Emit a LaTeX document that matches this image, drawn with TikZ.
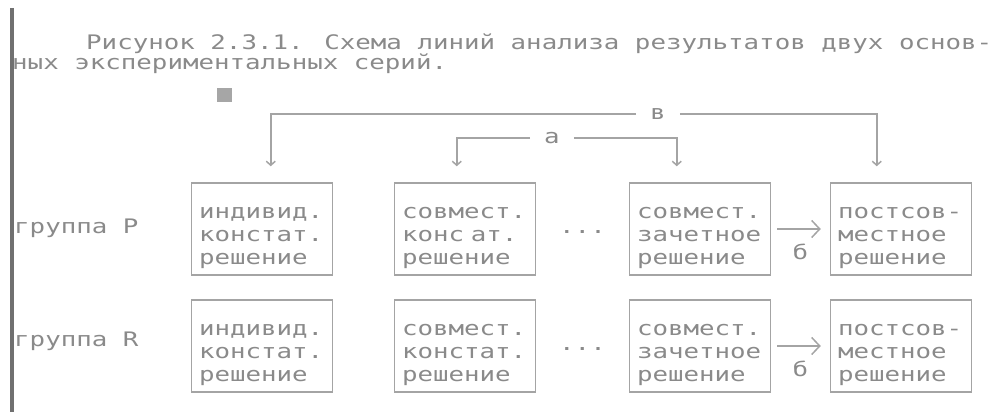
\documentclass[tikz,border=0pt]{standalone}
\usepackage{fontspec}
\newfontfamily\dosfont[FakeStretch=1.29]{DejaVu Sans Mono}
\usetikzlibrary{calc,positioning,arrows.meta}
\definecolor{dosgray}{HTML}{8A8A8A}
\definecolor{linegray}{HTML}{A4A4A4}
\definecolor{bargray}{HTML}{707070}

\begin{document}
\begin{tikzpicture}[x=1pt, y=-1pt, color=dosgray,
    txt/.style={font={\dosfont\fontsize{20}{23}\selectfont}, text=dosgray, inner sep=0pt},
    box/.style={txt, draw=linegray, line width=1.5pt, align=left, text width=126pt, minimum height=92pt, inner xsep=7.5pt,
        execute at begin node={\rule{0pt}{29pt}}},
    lbl/.style={txt, inner xsep=14pt},
    link/.style={draw=linegray, line width=1.5pt, -{Straight Barb[length=4pt,width=9pt]}},
    harrow/.style={draw=linegray, line width=1.5pt, -{Straight Barb[length=8pt,width=17pt]}, shorten <=6pt, shorten >=9pt}]

    \useasboundingbox (0,0) rectangle (994,412);

    % caption
    \node[txt, anchor=west] (cap1) at (86,44) {Рисунок 2.3.1. Схема линий анализа результатов двух основ-};
    \node[txt, anchor=west] (cap2) at (12,64) {ных экспериментальных серий.};
    \fill[black!35] (217,88) rectangle (232,102);

    % two rows of boxes
    \foreach \g/\y/\ly/\n/\s in {P/229/228/Р/{конс ат.}, R/346/341/R/констат.}{
        \node[txt, anchor=west] (lab\g) at (14,\ly) {группа \n};
        \node[box] (\g1) at (262,\y) {индивид.\\констат.\\решение};
        \node[box] (\g2) at (465,\y) {совмест.\\\s\\решение};
        \node[box] (\g3) at (700,\y) {совмест.\\зачетное\\решение};
        \node[box] (\g4) at (901,\y) {постсов-\\местное\\решение};
        \node[txt, yshift=-3pt] (\g dots) at ($(\g2)!0.5!(\g3)$) {...};
        \draw[harrow] (\g3) -- node[txt, below=14pt] (\g b) {б} (\g4);
    }

    % lines a and v
    \coordinate (o1) at ($(P1.north west)+(80,-16)$);
    \coordinate (o2) at ($(P4.north west)+(47,-16)$);
    \coordinate (i1) at ($(P2.north west)+(63,-16)$);
    \coordinate (i2) at ($(P3.north west)+(48,-16)$);

    \node[lbl] (v) at (658,114) {в};
    \node[lbl] (a) at (552,138) {а};
    \draw[link] (v.west) -| (o1);
    \draw[link] (v.east) -| (o2);
    \draw[link] (a.west) -| (i1);
    \draw[link] (a.east) -| (i2);

    % margin bar
    \draw[bargray, line width=4pt] (12,8) -- (12,412);

\end{tikzpicture}
\end{document}
